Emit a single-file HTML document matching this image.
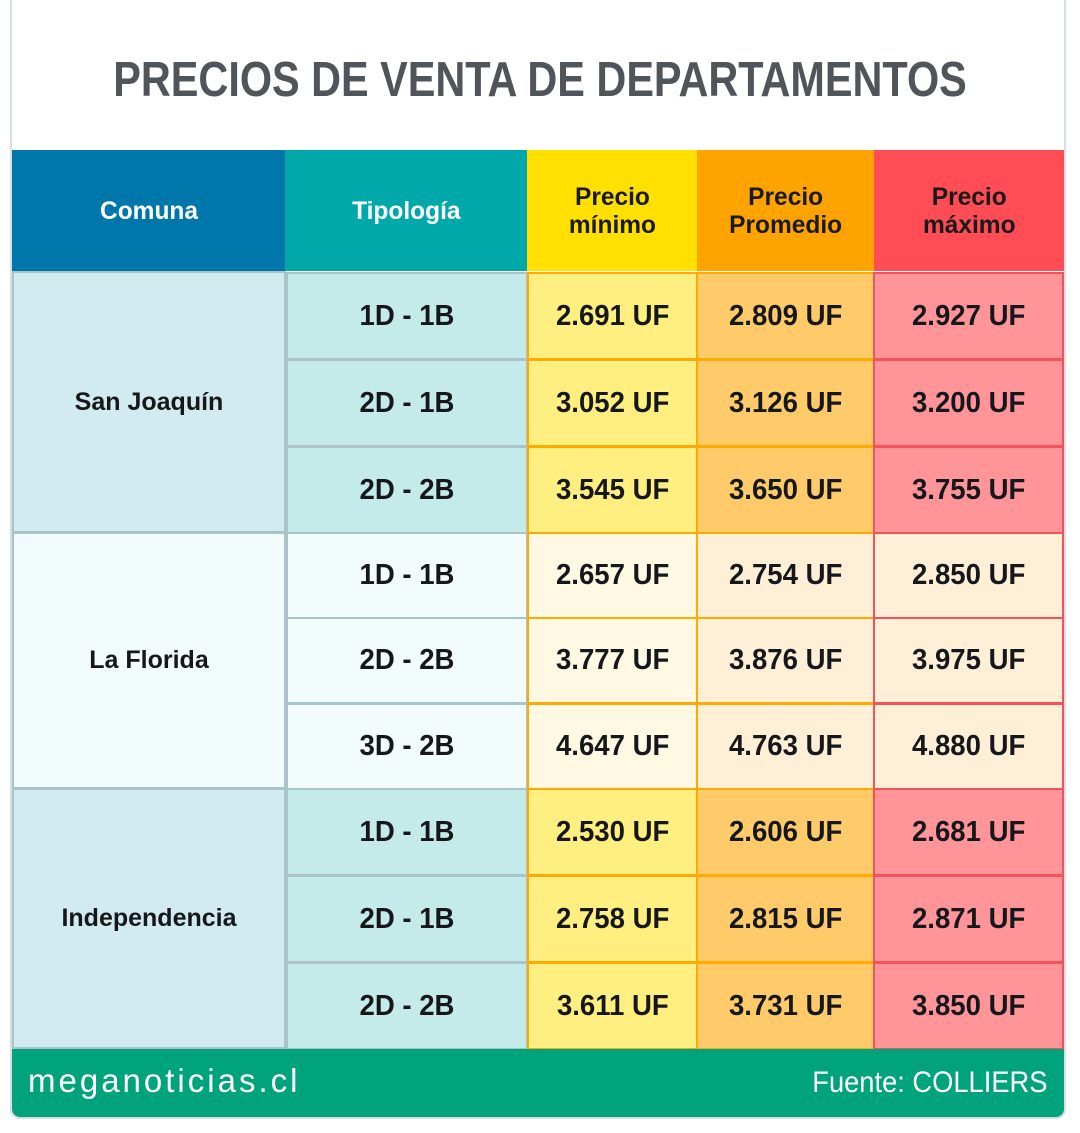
<!DOCTYPE html>
<html><head><meta charset="utf-8"><style>
*{margin:0;padding:0;box-sizing:border-box}
body{width:1080px;height:1133px;background:#fff;position:relative;overflow:hidden;font-family:"Liberation Sans",sans-serif;font-weight:bold}
.card{position:absolute;left:10px;top:-5px;width:1056px;height:1124px;border:2px solid #d5dee6;border-radius:0 0 10px 10px;background:#fff}
.c{position:absolute;display:flex;align-items:center;justify-content:center;text-align:center;color:#15171a}
.s{display:inline-block;transform:scaleX(0.95);white-space:nowrap}
.h{color:#fff;font-size:25px;line-height:28px}
.h .s{transform:scaleX(0.98)}
.hd{color:#1a1a1a}
.v{font-size:29px}
.lab .s{transform:scaleX(1.0)}
.t{position:absolute;left:0;width:1080px;top:52px;text-align:center;font-size:49px;color:#50545b}
</style></head><body>
<div class="card"></div>
<div class="t"><span class="s" style="transform:scaleX(0.845)">PRECIOS DE VENTA DE DEPARTAMENTOS</span></div>

<div class="c h" style="left:12px;top:150px;width:273px;height:121px;background:#0077aa"><span class="s">Comuna</span></div>
<div class="c h" style="left:285px;top:150px;width:242px;height:121px;background:#00a8aa"><span class="s">Tipología</span></div>
<div class="c h hd" style="left:527px;top:150px;width:170px;height:121px;background:#ffe000"><span class="s">Precio<br>mínimo</span></div>
<div class="c h hd" style="left:697px;top:150px;width:177px;height:121px;background:#ffa300"><span class="s">Precio<br>Promedio</span></div>
<div class="c h hd" style="left:874px;top:150px;width:190px;height:121px;background:#ff4c55"><span class="s">Precio<br>máximo</span></div>

<div class="c lab" style="left:12px;top:271px;width:274px;height:262px;background:#d2ebf0;border:2px solid #a9c3c9;font-size:25px"><span class="s">San Joaquín</span></div>
<div class="c lab" style="left:12px;top:532px;width:274px;height:257px;background:#f2fcfd;border:2px solid #a9c3c9;font-size:25px"><span class="s">La Florida</span></div>
<div class="c lab" style="left:12px;top:788px;width:274px;height:261px;background:#d2ebf0;border:2px solid #a9c3c9;font-size:25px"><span class="s">Independencia</span></div>

<div id="rows"></div>
<script>
var rows=[
[272,87,"1D - 1B","2.691 UF","2.809 UF","2.927 UF",0],
[359,87,"2D - 1B","3.052 UF","3.126 UF","3.200 UF",0],
[446,87,"2D - 2B","3.545 UF","3.650 UF","3.755 UF",0],
[532,86,"1D - 1B","2.657 UF","2.754 UF","2.850 UF",1],
[617,86,"2D - 2B","3.777 UF","3.876 UF","3.975 UF",1],
[703,86,"3D - 2B","4.647 UF","4.763 UF","4.880 UF",1],
[788,87,"1D - 1B","2.530 UF","2.606 UF","2.681 UF",0],
[875,87,"2D - 1B","2.758 UF","2.815 UF","2.871 UF",0],
[962,87,"2D - 2B","3.611 UF","3.731 UF","3.850 UF",0]];
var h="";
rows.forEach(function(r){
var lf=r[6];
var tb=lf?"#f2fcfd":"#c4eaea",mn=lf?"#fff9e4":"#ffee80",pr=lf?"#ffefd6":"#ffcb6a",mx=lf?"#ffefd6":"#ff9499";
h+='<div class="c v" style="left:285px;top:'+r[0]+'px;width:243px;height:'+(r[1]+1)+'px;background:'+tb+';border:2px solid #a9c3c9;border-left-width:3px"><span class="s">'+r[2]+'</span></div>';
h+='<div class="c v" style="left:527px;top:'+r[0]+'px;width:171px;height:'+(r[1]+1)+'px;background:'+mn+';border:2px solid #ffaa00"><span class="s">'+r[3]+'</span></div>';
h+='<div class="c v" style="left:696px;top:'+r[0]+'px;width:179px;height:'+(r[1]+1)+'px;background:'+pr+';border:2px solid #ffaa00"><span class="s">'+r[4]+'</span></div>';
h+='<div class="c v" style="left:873px;top:'+r[0]+'px;width:191px;height:'+(r[1]+1)+'px;background:'+mx+';border:2px solid #f2525a"><span class="s">'+r[5]+'</span></div>';
});
document.getElementById("rows").innerHTML=h;
</script>
<div style="position:absolute;left:12px;top:1049px;width:1052px;height:68px;background:#00a37c;border-radius:0 0 8px 8px"></div>
<div style="position:absolute;left:28px;top:1062px;color:#fff;font-weight:normal;font-size:33px;letter-spacing:3px"><span class="s" style="transform-origin:left;transform:scaleX(1.0)">meganoticias.cl</span></div>
<div style="position:absolute;right:33px;top:1066px;color:#fff;font-weight:normal;font-size:30px"><span class="s" style="transform-origin:right;transform:scaleX(0.91)">Fuente: COLLIERS</span></div>
</body></html>
